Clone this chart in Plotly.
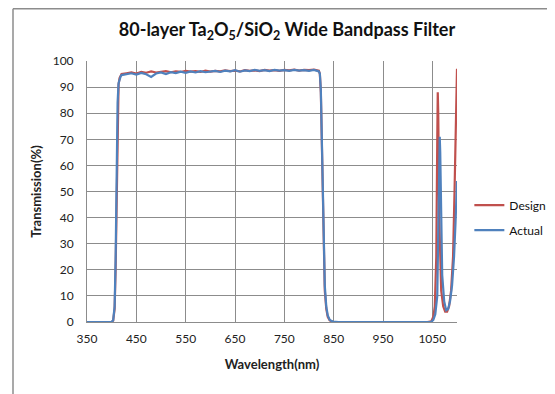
import plotly.graph_objects as go

# ---- data ----
passband_wl = [420, 430, 440, 450, 460, 470, 480, 490, 500, 510, 520, 530, 540, 550, 560, 570, 580,
               590, 600, 610, 620, 630, 640, 650, 660, 670, 680, 690, 700, 710, 720, 730, 740, 750,
               760, 770, 780, 790, 800, 810, 820]
design_pass = [95.0, 95.3, 95.6, 95.2, 95.8, 95.5, 96.0, 95.6, 95.9, 96.1, 95.7, 96.0, 95.8, 96.2,
               95.9, 96.1, 95.8, 96.3, 95.9, 96.2, 96.0, 96.4, 96.1, 96.3, 96.0, 96.5, 96.2, 96.4,
               96.1, 96.6, 96.3, 96.5, 96.2, 96.6, 96.4, 96.7, 96.3, 96.6, 96.5, 96.7, 96.3]
actual_pass = [94.6, 95.0, 95.3, 94.8, 95.4, 94.9, 93.9, 95.2, 95.6, 95.0, 95.7, 95.4, 95.9, 95.5,
               96.0, 95.6, 96.1, 95.7, 95.9, 96.2, 95.8, 96.3, 96.0, 96.5, 95.9, 96.4, 96.1, 96.6,
               96.2, 96.5, 96.1, 96.6, 96.3, 96.5, 96.2, 96.6, 96.3, 96.5, 96.2, 96.6, 96.0]

rise_wl = [350, 390, 400, 403, 406, 408, 410, 412, 414, 416, 418]
design_rise = [0, 0, 0.1, 0.5, 5, 20, 50, 80, 91, 93.5, 94.3]
actual_rise = [0, 0, 0.1, 0.6, 6, 24, 56, 84, 91.5, 93.5, 94.0]

fall_wl = [822, 824, 826, 828, 830, 832, 835, 838, 842, 848, 860, 1000, 1040]
design_fall = [95.0, 88, 70, 45, 25, 12, 5, 2, 0.6, 0.1, 0, 0, 0]
actual_fall = [95.2, 89, 72, 48, 28, 14, 6, 2.5, 0.8, 0.2, 0, 0, 0]

design_tail_wl = [1048, 1052, 1055, 1058, 1060, 1061, 1062, 1064, 1066, 1068, 1072, 1076, 1080,
                  1084, 1088, 1092, 1095, 1098, 1100]
design_tail = [0.3, 2, 6, 25, 70, 88, 80, 40, 20, 12, 6, 4, 4, 6, 12, 25, 50, 80, 97]
actual_tail_wl = [1048, 1052, 1056, 1060, 1062, 1064, 1065, 1066, 1068, 1070, 1074, 1078, 1082,
                  1086, 1090, 1094, 1097, 1100]
actual_tail = [0.1, 0.8, 3, 10, 30, 60, 71, 65, 35, 18, 8, 4.5, 5, 8, 14, 25, 38, 54]

x_ticks = [350, 450, 550, 650, 750, 850, 950, 1050]
y_ticks = [0, 10, 20, 30, 40, 50, 60, 70, 80, 90, 100]

design_x = rise_wl + passband_wl + fall_wl + design_tail_wl
design_y = design_rise + design_pass + design_fall + design_tail
actual_x = rise_wl + passband_wl + fall_wl + actual_tail_wl
actual_y = actual_rise + actual_pass + actual_fall + actual_tail

FONT = "Lato"
fig = go.Figure()
fig.add_trace(go.Scatter(x=design_x, y=design_y, mode="lines", name="Design", legendgroup="d",
                         line=dict(color="#C0504D", width=2.2)))
fig.add_trace(go.Scatter(x=actual_x, y=actual_y, mode="lines", name="Actual", legendgroup="a",
                         line=dict(color="#4F81BD", width=2.2)))

fig.update_layout(
    width=547, height=386,
    margin=dict(l=79, r=98, t=53, b=72, autoexpand=False),
    paper_bgcolor="white", plot_bgcolor="white",
    font=dict(family=FONT, size=12, color="#222222"),
    title=dict(text="80-layer Ta<sub>2</sub>O<sub>5</sub>/SiO<sub>2</sub> Wide Bandpass Filter",
               x=0.51, xanchor="center", y=0.943, yanchor="middle",
               font=dict(family=FONT, size=18, color="#111111", weight="bold")),
    legend=dict(x=1.255, y=0.40, xanchor="right", yanchor="middle",
                font=dict(family=FONT, size=12, color="#111111"),
                bgcolor="rgba(0,0,0,0)", tracegroupgap=6, itemwidth=30),
    showlegend=True,
)
fig.update_xaxes(range=[350, 1100], tickvals=x_ticks, ticktext=[str(v) for v in x_ticks],
                 showgrid=True, gridcolor="#8c8c8c", gridwidth=1,
                 showline=True, linecolor="#8c8c8c", linewidth=1, zeroline=False,
                 ticks="", tickfont=dict(size=12), ticklabelstandoff=6, automargin=False,
                 title=dict(text="Wavelength(nm)", font=dict(family=FONT, size=13, weight="bold"),
                            standoff=14))
fig.update_yaxes(range=[0, 100], tickvals=y_ticks,
                 showgrid=True, gridcolor="#8c8c8c", gridwidth=1,
                 showline=True, linecolor="#8c8c8c", linewidth=1, zeroline=False,
                 ticks="", tickfont=dict(size=12), ticklabelstandoff=10, automargin=False,
                 title=dict(text="Transmission(%)", font=dict(family=FONT, size=13, weight="bold"),
                            standoff=8))

# outer chart frame (partially visible)
fig.add_shape(type="line", xref="paper", yref="paper", x0=-0.2, x1=1.3, y0=1.2, y1=1.2,
              line=dict(color="#8c8c8c", width=1.5))
fig.add_shape(type="line", xref="paper", yref="paper", x0=-0.2, x1=-0.2, y0=-0.35, y1=1.2,
              line=dict(color="#8c8c8c", width=1.5))

fig.write_html("out.html")
